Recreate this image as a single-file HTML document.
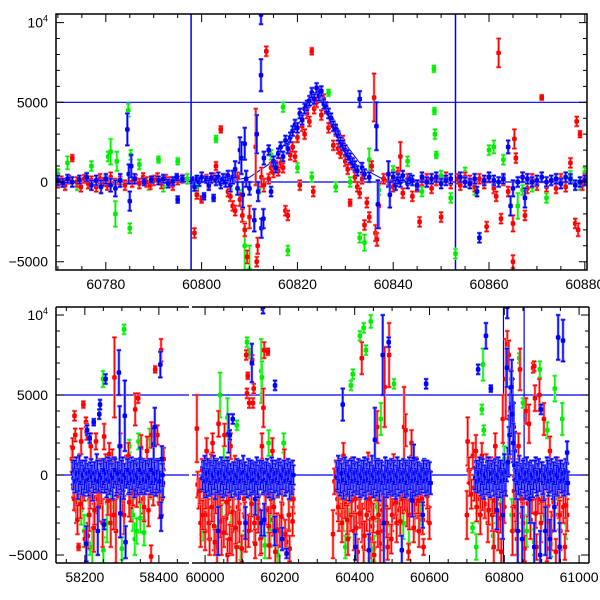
<!DOCTYPE html>
<html><head><meta charset="utf-8"><style>
html,body{margin:0;padding:0;background:#fff;}
svg{display:block;font-family:"Liberation Sans",Arial,sans-serif;}
</style></head><body>
<svg id="chart" width="600" height="600" viewBox="0 0 600 600" xmlns="http://www.w3.org/2000/svg">
<defs>
<clipPath id="clipTop"><rect x="56" y="14" width="531" height="256"/></clipPath>
<clipPath id="clipB1"><rect x="56" y="307" width="133" height="256"/></clipPath>
<clipPath id="clipB2"><rect x="192" y="307" width="397" height="256"/></clipPath>
</defs>
<g id="topPanel"></g>
<g id="botPanel"></g>
</svg>
<script>
// ---------- DATA ----------
const topXTicks=[60780,60800,60820,60840,60860,60880];
const botXTicksLeft=[58200,58400];
const botXTicksRight=[60000,60200,60400,60600,60800,61000];
const yTicks=[-5000,0,5000,10000];
const refLinesY=[0,5000];
const refLinesX=[60797.8,60853];
const modelCurve=[[60770,0],[60806,60],[60810,300],[60814,1100],[60818,2600],[60822,4500],[60824.5,5300],[60827,4300],[60830,2400],[60834,800],[60838,150],[60845,0],[60880,0]];

const topBlue=[[60770,100,300],[60771,-50,250],[60772,200,250],[60773,0,300],[60774.5,150,250],[60776,300,250],[60777,-200,300],[60778,100,300],[60779,-300,400],[60780,200,300],[60781,-200,400],[60782,-400,500],[60783,100,400],[60784.5,3300,1000],[60784.8,500,600],[60785,-1200,600],[60785.3,1000,700],[60786,200,300],[60788,0,200],[60789.5,150,200],[60791,100,250],[60792,200,250],[60793,-100,250],[60794,50,250],[60794.8,300,200],[60795,-1100,200],[60796,200,200],[60798,100,200],[60798.5,-300,250],[60799,200,200],[60799.5,0,250],[60800,300,300],[60800.5,-900,200],[60801,150,200],[60801.5,-200,300],[60802,250,300],[60802.5,-1000,200],[60803,100,300],[60803.5,300,300],[60804,-100,300],[60804.5,200,300],[60805,0,300],[60805.5,400,300],[60806,-200,400],[60806.5,300,400],[60807,800,500],[60807.5,-400,400],[60808,2000,800],[60808.3,1500,1000],[60808.6,-800,800],[60809,2400,1000],[60809.3,200,500],[60810,-400,400],[60811,-2400,700],[60811.5,3000,1200],[60811.8,-600,600],[60812.4,10500,600],[60812.4,6700,1000],[60812.5,-2900,600],[60812.9,-2300,600],[60813,1500,400],[60814,2000,300],[60814.5,-600,300],[60815,1300,300],[60815.5,900,300],[60816,1800,300],[60816.5,2200,300],[60817,1600,300],[60817.5,2600,300],[60818,2100,300],[60818.5,2800,300],[60819,3200,300],[60819.5,3600,300],[60820,3400,300],[60820.5,4300,300],[60821,3900,300],[60821.5,4600,300],[60822,4800,300],[60822.5,5100,300],[60823,5600,300],[60823.5,5200,300],[60824,5900,300],[60824.5,5400,300],[60825,5700,300],[60825.5,4900,300],[60826,4700,300],[60826.5,4300,300],[60827,4000,300],[60827.5,3500,300],[60828,3300,300],[60828.5,2900,300],[60829,2500,300],[60829.5,2300,300],[60830,2000,300],[60830.5,1700,300],[60831,1500,300],[60831.5,1200,300],[60832,1000,300],[60832.5,700,300],[60833,5200,500],[60833.5,900,300],[60834,500,300],[60835,300,300],[60836.5,3500,1500],[60836.8,-1400,1500],[60839,500,800],[60839.3,-800,800],[60840,300,300],[60840.5,-200,300],[60841,200,300],[60841.5,0,300],[60842,400,300],[60843,-100,300],[60843.5,200,300],[60844,100,300],[60845,-200,300],[60846,300,300],[60847,0,300],[60848,200,300],[60849,300,300],[60850,-100,300],[60851,100,300],[60852,200,300],[60854,300,300],[60855,0,300],[60856,-100,300],[60857,200,300],[60857.5,-600,300],[60858,-3500,300],[60859,100,300],[60860,300,300],[60861,100,300],[60862,0,300],[60863,200,300],[60864,2200,400],[60864.5,-1500,600],[60865,-400,500],[60866,0,300],[60867,300,300],[60867.5,-1000,600],[60868,200,300],[60869,0,300],[60870,100,300],[60871,300,300],[60872,0,300],[60873,100,300],[60874,200,300],[60875,-100,300],[60876,300,300],[60877,200,300],[60878,-200,300],[60879,0,300],[60880,100,300]];

const topRed=[[60770,-100,250],[60770.7,100,250],[60771.5,-200,300],[60772.3,150,250],[60773,1500,200],[60774,0,300],[60774.8,-300,300],[60775.5,200,250],[60776.3,-100,300],[60777,100,250],[60778,-300,300],[60778.8,200,300],[60779.5,0,250],[60780.3,-200,300],[60781,300,300],[60782,-100,300],[60783,100,250],[60784,-200,300],[60785.5,0,300],[60786.2,200,250],[60787,-100,300],[60787.8,300,250],[60788.5,0,300],[60789.3,-200,250],[60790,100,300],[60790.8,300,250],[60791.6,-100,300],[60792.5,200,250],[60793.3,0,300],[60794,-200,300],[60795,100,250],[60796,200,250],[60798.5,-3200,300],[60799,-800,250],[60800,-1100,200],[60801,200,250],[60801.5,-100,300],[60802.5,300,250],[60803,1000,250],[60804,3300,200],[60805,200,300],[60805.5,-600,300],[60806,-900,300],[60806.5,-1500,300],[60807,-1800,300],[60807.5,300,300],[60808,-1100,400],[60808.5,-2100,400],[60809,-3000,400],[60809.5,-4700,400],[60810,-2200,700],[60811.5,-5000,300],[60811.7,-4000,500],[60811.3,2200,2400],[60812.5,300,600],[60813,-200,400],[60813.5,8200,300],[60814,200,300],[60814.5,900,300],[60815,600,300],[60815.5,1000,300],[60816,700,300],[60816.5,1200,300],[60817,900,300],[60817.5,-1800,300],[60818,-2100,300],[60818.5,1700,300],[60819,2200,300],[60819.5,1600,300],[60820,2800,300],[60820.5,-200,300],[60821,3500,300],[60821.5,3000,300],[60822,4300,300],[60822.5,3800,300],[60823,8200,200],[60823.3,-600,300],[60823.5,4600,300],[60824,5000,300],[60824.5,5600,300],[60825,4200,300],[60825.5,5200,300],[60826,4600,300],[60826.5,3400,300],[60827,3800,300],[60827.5,2300,300],[60828,3200,300],[60828.5,2100,300],[60829,1800,300],[60829.5,2600,300],[60830,1300,300],[60830.5,800,300],[60831,-1300,200],[60831.5,1100,300],[60832,300,300],[60832.5,-300,300],[60833,-700,300],[60833.5,200,300],[60834,-2700,300],[60834.5,-1300,300],[60835,-2200,300],[60835.5,1000,300],[60836,5300,1500],[60836.3,-3200,500],[60836.6,-3600,400],[60837,-1500,1400],[60838,200,300],[60839,100,300],[60840,-300,300],[60841,600,300],[60841.5,1600,900],[60842,-700,300],[60843,200,300],[60844,-900,300],[60845,-300,300],[60845.5,-2500,300],[60846,100,300],[60847,200,300],[60848,-400,300],[60849,100,300],[60850,-2200,300],[60851,300,300],[60852,-100,300],[60853.5,200,300],[60854,-200,300],[60855,300,300],[60856,100,300],[60857,-300,300],[60858,200,300],[60859,-100,300],[60859.5,-2800,300],[60860,300,300],[60861,-400,300],[60861.5,-900,300],[60862,8100,900],[60862.5,-2300,300],[60863,100,300],[60864,-600,300],[60865,-5000,400],[60865,-2600,500],[60865.3,2700,600],[60865.6,1500,300],[60866,0,300],[60867,300,300],[60867.5,-2100,300],[60868,-400,300],[60869,200,300],[60870,-200,300],[60871,5300,150],[60872,-300,300],[60873,100,300],[60874,-400,300],[60875,200,300],[60876,-300,300],[60877,1200,300],[60878,-2600,300],[60878.3,3800,300],[60878.6,-3000,400],[60879,3000,200],[60879.5,-200,300],[60880,200,300]];

const topGreen=[[60770,500,300],[60772,1200,400],[60774,-200,300],[60776,300,300],[60777,1000,300],[60778,-300,300],[60780,100,300],[60780.5,1600,300],[60781,1900,800],[60782,-2000,800],[60782.3,1300,600],[60783,200,300],[60784.7,4500,400],[60785,-2900,300],[60785.2,1700,300],[60787,1100,300],[60789,-200,300],[60791,1400,200],[60792,-300,300],[60795,1300,200],[60797,200,300],[60799,-400,300],[60803,2700,200],[60806,-500,300],[60808,-800,300],[60809,-4000,1500],[60810,-5500,1500],[60812,-400,300],[60814.5,1700,300],[60817,4700,300],[60818,-4300,300],[60820,900,300],[60823,300,300],[60826.5,5600,200],[60828,-300,300],[60831,0,300],[60833,-3500,300],[60834,-3800,500],[60835,1400,700],[60837,-500,300],[60840,700,300],[60843,1300,300],[60846,-600,300],[60848.5,7100,200],[60848.6,4450,200],[60848.7,3000,300],[60849,1700,200],[60850,400,300],[60852,-1000,300],[60853,-4500,300],[60855,600,300],[60857,-500,300],[60860,2000,300],[60861,2200,400],[60863,1400,300],[60866,-1500,800],[60867,-500,300],[60869,-300,300],[60872,-1000,300],[60875,200,300],[60877,400,300],[60879,-200,300],[60880,600,300]];

const botBlue=[[58168,100,700],[58173,-300,800],[58177,200,900],[58181,-500,1000],[58185,300,900],[58189,-200,800],[58193,0,900],[58197,-400,900],[58204,-4300,1100],[58203,200,900],[58206,2800,300],[58210,-300,1000],[58213,2300,300],[58217,100,900],[58221,-600,1000],[58224,3300,200],[58228,-200,900],[58232,300,1000],[58235,-3500,1500],[58239,3800,300],[58241,4400,300],[58245,-100,1000],[58249,0,900],[58252,-3100,300],[58256,6000,300],[58259,-400,1000],[58263,200,900],[58267,-200,1000],[58271,100,900],[58275,-500,1000],[58280,200,900],[58284,-300,1000],[58292,6400,1400],[58294,1800,2500],[58296,-2400,1500],[58298,-300,900],[58302,200,900],[58305,-500,1000],[58308,3700,2200],[58310,-4200,1000],[58314,100,900],[58318,-200,1000],[58322,-300,900],[58326,200,900],[58330,0,900],[58334,-400,1000],[58338,100,900],[58342,-200,1000],[58346,0,800],[58350,1000,700],[58354,-300,900],[58358,100,900],[58362,-200,1000],[58366,0,900],[58370,-100,900],[58374,200,800],[58378,-300,900],[58382,100,900],[58386,1900,1000],[58389,3000,1200],[58392,-400,900],[58396,100,900],[58400,-200,900],[58404,6900,800],[58406,-2600,900],[58408,1000,800],[58411,-500,900],
[59995,-100,900],[59999,200,1000],[60003,-400,1000],[60007,100,900],[60011,-300,1000],[60015,0,900],[60019,-200,1000],[60023,300,900],[60027,-500,1000],[60031,100,900],[60035,-3500,1500],[60039,-200,1000],[60043,200,900],[60047,-400,1000],[60051,0,900],[60055,-300,1000],[60059,200,900],[60063,2600,1200],[60066,2500,300],[60070,-400,1000],[60074,3500,300],[60078,-100,900],[60082,-300,1000],[60086,100,900],[60090,-500,1000],[60094,0,900],[60098,-200,1000],[60102,300,900],[60125,7000,1200],[60108,-3000,1000],[60112,-400,1000],[60116,100,900],[60120,-300,1000],[60124,0,900],[60128,-200,1000],[60155,10500,400],[60134,-1500,1000],[60138,200,900],[60142,-400,1000],[60146,0,900],[60150,-3000,800],[60154,-200,1000],[60158,-2800,1000],[60187,5600,300],[60166,100,900],[60170,-400,1000],[60174,-200,900],[60178,200,900],[60182,-500,1000],[60186,-3500,900],[60190,0,900],[60194,-300,1000],[60198,100,900],[60202,-200,1000],[60206,-4000,700],[60210,0,900],[60214,-300,1000],[60218,-4900,300],[60222,100,900],[60226,-500,1000],[60230,-200,900],[60234,0,900],
[60352,-100,900],[60356,200,1000],[60360,-300,1000],[60363,100,900],[60368,4400,1000],[60370,-500,1000],[60374,200,900],[60378,-300,1000],[60382,0,900],[60386,-600,1000],[60390,100,900],[60394,-300,1000],[60398,200,900],[60402,-4500,800],[60406,-200,1000],[60410,100,900],[60414,-400,1000],[60418,0,900],[60422,-300,1000],[60426,200,900],[60430,-500,1000],[60434,100,900],[60438,-4700,1000],[60442,-200,1000],[60446,300,900],[60450,-400,1000],[60454,2200,2000],[60458,-300,1000],[60462,100,900],[60466,-600,1000],[60470,0,900],[60475,7500,2500],[60478,-3000,2500],[60482,200,900],[60486,-400,1000],[60491,8300,300],[60494,-200,1000],[60498,100,900],[60502,-300,1000],[60506,0,900],[60510,-500,1000],[60514,200,900],[60518,-300,1000],[60522,-200,900],[60526,-4700,900],[60530,100,900],[60534,-400,1000],[60538,0,900],[60542,-300,1000],[60546,200,900],[60550,-500,1000],[60554,-1600,1000],[60558,1000,900],[60562,-300,1000],[60566,100,900],[60570,-200,1000],[60591,5700,300],[60578,-200,900],[60582,-2500,800],[60586,100,900],[60590,-300,1000],[60594,0,900],[60598,-200,900],
[60725,-100,900],[60730,6600,300],[60734,200,900],[60738,-300,1000],[60742,100,900],[60746,-500,1000],[60751,8700,800],[60754,-200,1000],[60758,200,900],[60762,-400,1000],[60764,5400,200],[60768,0,900],[60772,-300,1000],[60776,100,900],[60780,-2200,1200],[60784,200,900],[60788,-400,1000],[60792,0,900],[60796,-2500,1500],[60800,300,1000],[60804,-300,1000],[60807,6700,1200],[60808,10500,700],[60812,1500,1500],[60815,3500,1500],[60818,5000,1500],[60820,6000,1200],[60822,4500,1500],[60825,3000,1500],[60828,1500,1200],[60832,-500,1000],[60836,-3500,2000],[60840,200,1000],[60844,-300,1000],[60848,-4000,2000],[60852,100,900],[60856,-500,1000],[60860,200,900],[60864,-300,1000],[60868,-1500,1500],[60872,0,900],[60876,-400,1000],[60880,-4500,1500],[60884,200,900],[60888,-300,1000],[60892,100,900],[60896,-5000,1500],[60898,4100,300],[60902,-200,1000],[60906,-600,1000],[60910,-3500,1500],[60914,200,900],[60918,-300,1000],[60922,-4000,1200],[60926,100,900],[60930,-500,1000],[60934,-2000,1500],[60938,200,900],[60942,-300,1000],[60944,8600,1400],[60948,-4500,1500],[60952,0,900],[60957,8400,1300],[60960,-300,1000],[60964,100,900],[60968,1400,700]];

const botBlueCore=[[58170,-200,700],[58172,300,600],[58175,-400,700],[58179,100,600],[58183,-300,700],[58187,200,600],[58191,-500,700],[58195,0,600],[58199,-200,700],[58201,300,600],[58205,-400,700],[58208,100,600],[58211,-300,700],[58215,200,600],[58219,-100,700],[58223,-500,600],[58226,100,700],[58230,-300,600],[58234,200,700],[58237,-400,600],[58243,0,700],[58247,-200,600],[58251,300,700],[58254,-500,600],[58258,100,700],[58261,-300,600],[58265,200,700],[58269,-400,600],[58273,0,700],[58277,-200,600],[58282,300,700],[58286,-500,600],[58289,100,700],[58297,-300,600],[58300,200,700],[58304,-400,600],[58307,0,700],[58312,-200,600],[58316,300,700],[58320,-500,600],[58324,100,700],[58328,-300,600],[58332,200,700],[58336,-400,600],[58340,0,700],[58344,-200,600],[58348,300,700],[58352,-500,600],[58356,100,700],[58360,-300,600],[58364,200,700],[58368,-400,600],[58372,0,700],[58376,-200,600],[58380,300,700],[58384,-500,600],[58388,100,700],[58394,-300,600],[58398,200,700],[58402,-400,600],[58410,0,700],
[59993,-200,700],[59997,300,600],[60001,-400,700],[60005,100,600],[60009,-300,700],[60013,200,600],[60017,-500,700],[60021,0,600],[60025,-200,700],[60029,300,600],[60033,-400,700],[60037,100,600],[60041,-300,700],[60045,200,600],[60049,-500,700],[60053,0,600],[60057,-200,700],[60061,300,600],[60065,-400,700],[60068,100,600],[60072,-300,700],[60076,200,600],[60080,-500,700],[60084,0,600],[60088,-200,700],[60092,300,600],[60096,-400,700],[60100,100,600],[60104,-300,700],[60106,200,600],[60110,-500,700],[60114,0,600],[60118,-200,700],[60122,300,600],[60126,-400,700],[60130,100,600],[60132,-300,700],[60136,200,600],[60140,-500,700],[60144,0,600],[60148,-200,700],[60152,300,600],[60156,-400,700],[60160,100,600],[60162,-300,700],[60164,200,600],[60168,-500,700],[60172,0,600],[60176,-200,700],[60180,300,600],[60184,-400,700],[60188,100,600],[60192,-300,700],[60196,200,600],[60200,-500,700],[60204,0,600],[60208,-200,700],[60212,300,600],[60216,-400,700],[60220,100,600],[60224,-300,700],[60228,200,600],[60232,-500,700],[60236,0,600],
[60354,-200,700],[60358,300,600],[60362,-400,700],[60365,100,600],[60372,-300,700],[60376,200,600],[60380,-500,700],[60384,0,600],[60388,-200,700],[60392,300,600],[60396,-400,700],[60400,100,600],[60404,-300,700],[60408,200,600],[60412,-500,700],[60416,0,600],[60420,-200,700],[60424,300,600],[60428,-400,700],[60432,100,600],[60436,-300,700],[60440,200,600],[60444,-500,700],[60448,0,600],[60452,-200,700],[60456,300,600],[60460,-400,700],[60464,100,600],[60468,-300,700],[60472,200,600],[60476,-500,700],[60480,0,600],[60484,-200,700],[60488,300,600],[60492,-400,700],[60496,100,600],[60500,-300,700],[60504,200,600],[60508,-500,700],[60512,0,600],[60516,-200,700],[60520,300,600],[60524,-400,700],[60528,100,600],[60532,-300,700],[60536,200,600],[60540,-500,700],[60544,0,600],[60548,-200,700],[60552,300,600],[60556,-400,700],[60560,100,600],[60564,-300,700],[60568,200,600],[60572,-500,700],[60576,0,600],[60580,-200,700],[60584,300,600],[60588,-400,700],[60592,100,600],[60596,-300,700],[60600,200,600],[60603,-500,700],
[60722,-200,700],[60726,300,600],[60728,-400,700],[60732,100,600],[60736,-300,700],[60740,200,600],[60744,-500,700],[60748,0,600],[60752,-200,700],[60756,300,600],[60760,-400,700],[60766,100,600],[60770,-300,700],[60774,200,600],[60778,-500,700],[60782,0,600],[60786,-200,700],[60790,300,600],[60794,-400,700],[60798,100,600],[60802,-300,700],[60806,200,600],[60810,800,900],[60814,2500,1200],[60817,4200,1200],[60819,5500,1000],[60821,3800,1200],[60824,2000,1200],[60827,600,900],[60830,-300,700],[60834,200,600],[60838,-500,700],[60842,0,600],[60846,-200,700],[60850,300,600],[60854,-400,700],[60858,100,600],[60862,-300,700],[60866,200,600],[60870,-500,700],[60874,0,600],[60878,-200,700],[60882,300,600],[60886,-400,700],[60890,100,600],[60894,-300,700],[60900,200,600],[60904,-500,700],[60908,0,600],[60912,-200,700],[60916,300,600],[60920,-400,700],[60924,100,600],[60928,-300,700],[60932,200,600],[60936,-500,700],[60940,0,600],[60946,-200,700],[60950,300,600],[60954,-400,700],[60958,100,600],[60962,-300,700],[60966,200,600],[60970,-500,700]];

const botRed=[[58165,1000,800],[58167,1700,600],[58169,-800,600],[58172,3700,300],[58174,2500,400],[58177,-2200,800],[58180,-2800,900],[58183,-4500,200],[58186,500,800],[58190,2100,800],[58193,-1200,900],[58196,4400,200],[58200,-4000,500],[58203,3300,300],[58205,2700,500],[58208,-3800,800],[58212,-2500,1000],[58216,1800,800],[58220,-600,1000],[58224,-3300,1500],[58230,2100,500],[58234,-1500,900],[58238,-2000,900],[58242,200,800],[58248,-3000,1500],[58252,2400,800],[58256,600,700],[58260,-800,900],[58266,1300,700],[58270,-3000,1500],[58274,700,900],[58280,6100,2500],[58284,-3500,2000],[58290,-500,900],[58296,1800,800],[58302,-1500,1000],[58306,-2500,1200],[58312,500,700],[58318,1200,800],[58324,-2000,900],[58330,-1000,900],[58336,4100,1000],[58379,-5100,700],[58344,4800,300],[58348,-800,900],[58352,1700,800],[58358,-1500,900],[58390,6600,200],[58368,1500,900],[58372,-2200,1000],[58376,-600,800],[58380,2500,800],[58406,7800,700],[58392,-300,900],[58396,2500,600],[58400,-800,900],[58408,-1500,1000],[58413,1000,700],
[59978,2900,2100],[59980,-600,800],[59983,-1200,900],[59988,-3000,1500],[59992,300,700],[59996,-1800,900],[60000,-3500,1200],[60004,1500,800],[60008,-2500,1000],[60012,-4000,1000],[60016,500,800],[60020,2000,600],[60024,-3200,1500],[60028,-1500,900],[60032,-4500,1000],[60036,3200,800],[60040,-2200,900],[60044,-3800,1200],[60048,-800,800],[60052,2500,700],[60056,-2700,1000],[60060,-5000,1000],[60064,-1500,900],[60068,1800,800],[60072,-3500,1500],[60076,-2500,1000],[60080,400,800],[60084,-4500,1000],[60088,-2000,900],[60092,-3000,1200],[60110,7500,300],[60114,6200,200],[60112,5100,300],[60118,4500,300],[60104,-1500,900],[60108,-3800,1000],[60126,7200,300],[60130,5400,300],[60128,4500,300],[60122,-2500,1000],[60158,7800,500],[60156,4200,1200],[60132,-3000,1200],[60136,-800,800],[60168,7700,200],[60144,-2200,900],[60148,-4000,1000],[60152,1800,800],[60160,-2000,1000],[60164,-500,800],[60170,-3200,1200],[60176,-1500,900],[60180,1500,800],[60182,-2800,1000],[60188,-4800,800],[60194,-600,800],[60200,-3500,1000],[60206,-1800,900],[60212,800,800],[60218,-4200,800],[60224,-2500,1000],[60230,-800,800],[60236,-1500,900],
[60342,-3700,1500],[60346,-400,800],[60350,200,700],[60354,-1500,900],[60358,-2500,1000],[60362,-500,800],[60366,-3000,1200],[60370,1200,800],[60374,-1800,900],[60378,-800,800],[60382,-4000,1000],[60386,-1000,800],[60390,-2500,1000],[60394,400,700],[60398,-3500,1200],[60402,-1500,900],[60419,7300,1000],[60408,-4800,800],[60412,-2000,1000],[60416,-600,800],[60420,-3000,1200],[60424,-4500,1000],[60428,-1200,900],[60432,-2500,1000],[60436,600,800],[60440,-4000,1200],[60444,-1800,900],[60448,-3200,1000],[60452,-5000,800],[60456,-800,800],[60460,3000,1000],[60464,-2500,1000],[60468,-4300,1500],[60472,-1000,900],[60476,-3500,1200],[60480,5500,2500],[60484,-2000,1000],[60488,-4500,800],[60492,7500,2000],[60496,-1200,900],[60500,-2500,1000],[60504,500,800],[60508,-1800,900],[60512,-3000,1200],[60516,-500,800],[60520,-2200,900],[60524,-800,800],[60528,-1500,900],[60532,3000,2500],[60536,2800,1000],[60540,-2200,1000],[60544,-4800,500],[60548,-500,800],[60552,2000,800],[60556,-1500,900],[60560,-2500,1000],[60564,300,800],[60568,-1800,900],[60572,-3500,1000],[60576,-800,800],[60580,-1500,900],[60584,-4500,500],[60590,-500,800],[60596,-2000,900],[60600,-3000,1000],
[60700,-2500,1500],[60702,2100,1500],[60705,300,800],[60708,-500,800],[60712,-1200,900],[60716,1200,800],[60720,-800,800],[60724,1500,1000],[60728,-1500,900],[60732,-300,800],[60736,-2500,1200],[60740,1200,800],[60744,-800,800],[60748,-1800,900],[60752,500,800],[60756,-3000,1200],[60760,-1200,900],[60764,300,800],[60768,-2500,1000],[60772,-4500,1000],[60776,1800,800],[60780,-1500,900],[60784,-3500,1200],[60788,-500,800],[60792,-4800,800],[60796,3500,1500],[60800,-2000,1000],[60804,6000,2500],[60808,8200,800],[60812,7500,900],[60815,2500,1500],[60818,5000,1500],[60822,-3500,1500],[60826,-1000,900],[60830,-2500,1000],[60834,-4000,1000],[60838,1800,800],[60842,6600,1300],[60846,-1500,900],[60850,-3000,1200],[60854,-4600,800],[60858,4000,800],[60862,-800,900],[60866,3200,1200],[60870,-2800,1200],[60874,-1500,900],[60877,6700,300],[60880,6800,300],[60882,4800,800],[60886,-4500,800],[60890,-1500,900],[60894,5000,1000],[60898,-3000,1200],[60902,-800,900],[60906,3500,1000],[60910,-2500,1000],[60914,-4600,800],[60918,-1000,900],[60922,1500,900],[60926,-3500,1200],[60930,-500,800],[60934,-2500,1000],[60938,-4800,800],[60942,300,800],[60946,-1800,900],[60950,-3500,1200],[60954,-600,800],[60958,-2000,1000],[60962,-4500,800],[60966,-1000,900],[60968,-2500,1000]];

const botRedExtra=[[58171,-1500,700],[58178,-700,800],[58188,-1800,900],[58198,-900,700],[58214,-1300,800],[58226,-2200,900],[58244,-1000,800],[58262,-1600,900],[58278,-2500,900],[58300,-900,800],[58320,-1700,900],[58340,-1200,800],[58360,-2000,900],[58385,-1100,800],[58402,-1800,900],
[59986,-1000,800],[59994,-2500,900],[60002,-1300,800],[60010,-3000,1000],[60018,-2000,900],[60026,-4200,800],[60034,-1200,800],[60042,-2900,1000],[60050,-3600,900],[60058,-1700,800],[60066,-4000,900],[60074,-2300,900],[60082,-3300,1000],[60090,-1400,800],[60098,-4600,800],[60106,-2600,900],[60116,-3500,1000],[60124,-1800,800],[60134,-4300,900],[60142,-2700,900],[60150,-3900,1000],[60162,-2200,900],[60172,-4400,800],[60184,-2000,900],[60192,-3400,1000],[60204,-2600,900],[60214,-3700,900],[60226,-4600,800],[60234,-2900,900],
[60356,-2000,900],[60368,-1300,800],[60380,-2800,900],[60392,-1600,800],[60404,-3300,900],[60414,-2400,900],[60426,-3800,900],[60438,-1500,800],[60450,-2700,900],[60462,-3600,900],[60474,-2200,900],[60486,-3000,900],[60498,-4000,900],[60510,-1700,800],[60522,-2900,900],[60534,-1400,800],[60546,-2500,900],[60558,-3300,900],[60570,-1600,800],[60582,-2800,900],[60594,-1300,800],
[60726,-2000,900],[60742,-1400,800],[60758,-2200,900],[60774,-1600,800],[60790,-2700,900],[60832,-2000,900],[60848,-2600,900],[60864,-1800,800],[60884,-2400,900],[60900,-1600,800],[60916,-2900,900],[60932,-1700,800],[60948,-2500,900],[60964,-1900,800]];

const botGreen=[[58170,-800,600],[58180,-1500,800],[58190,-2200,900],[58198,-3500,1000],[58205,-4000,400],[58210,-2500,900],[58214,-4600,400],[58220,-4500,1200],[58249,6000,500],[58250,-4700,800],[58260,-3000,1200],[58270,-2000,1000],[58306,9100,300],[58300,-4600,700],[58320,1800,400],[58330,-2500,1000],[58335,-4000,1000],[58340,-3500,800],[58345,2100,500],[58350,-2700,900],[58360,-3600,800],[58375,2300,600],[58380,-800,700],[58400,-600,800],
[59990,-3700,300],[59995,-3500,600],[60000,-2500,1000],[60040,5000,1400],[60020,-1500,900],[60030,-4000,800],[60045,-2800,1000],[60050,1000,800],[60060,3600,1200],[60070,-3000,1000],[60085,3100,300],[60095,-4500,800],[60112,8300,300],[60118,7600,300],[60150,6500,2000],[60152,6100,1000],[60140,-2000,1000],[60160,-4400,800],[60170,2000,800],[60175,-3500,1000],[60180,-1500,900],[60195,-5000,500],[60210,2000,600],[60225,-2500,900],
[60360,-1500,900],[60370,-2500,1000],[60375,-4500,700],[60385,-3000,900],[60390,5600,300],[60395,6300,300],[60443,9600,400],[60414,8700,300],[60424,9200,300],[60430,7800,300],[60440,-800,800],[60445,-4800,800],[60452,-4600,800],[60460,-2000,900],[60470,3500,1000],[60480,-2500,1000],[60495,-4000,800],[60505,5700,300],[60520,-1800,900],[60530,-3000,1000],[60545,-4300,1000],[60560,-1500,900],[60575,-2200,900],
[60715,-3300,300],[60725,-4500,800],[60735,-2000,1000],[60740,4100,300],[60745,2800,300],[60743,6900,1000],[60760,-1500,900],[60770,-3800,800],[60780,-2500,1000],[60790,-1800,900],[60800,1000,800],[60820,-2500,1000],[60840,7300,300],[60850,4500,300],[60860,-3500,1000],[60870,-1000,900],[60880,-4200,800],[60895,6600,500],[60905,-2000,900],[60915,2800,500],[60925,-4300,800],[60935,5400,800],[60945,-1500,900],[60955,3500,1000],[60965,-3000,1000]];

// ---------- SCALES ----------
const NS="http://www.w3.org/2000/svg";
function xTop(m){return 56+(m-60769.6)*4.79;}
function yTop(f){return 182-f*0.01594;}
function xBot(m){return m<59500?56+(m-58122)*0.37:192+(m-59965)*0.374;}
function yBot(f){return 475-f*0.016;}

function mk(parent,tag,attrs){const e=document.createElementNS(NS,tag);for(const k in attrs)e.setAttribute(k,attrs[k]);parent.appendChild(e);return e;}

function drawSeries(g,data,color,halo,xs,ys,name){
  const sg=mk(g,'g',{});
  
  
  data.forEach(function(p){
    const x=xs(p[0]),y=ys(p[1]),y1=ys(p[1]+p[2]),y2=ys(p[1]-p[2]);
    const d='M'+x+' '+y1+'V'+y2+'M'+(x-2.2)+' '+y1+'H'+(x+2.2)+'M'+(x-2.2)+' '+y2+'H'+(x+2.2);
    const h=mk(sg,'path',{d:d,stroke:halo,'stroke-width':2.6,fill:'none'});
    
    
    const eb=mk(sg,'path',{d:d,stroke:color,'stroke-width':1.2,fill:'none'});
    
    
    const c=mk(sg,'rect',{x:x-2.3,y:y-2.3,width:4.6,height:4.6,rx:1.5,fill:color});
    
    
  });
}
const RED='#ff0000',REDH='#ff8080',GRN='#00ee00',GRNH='#80ff80',BLU='#0000ff',BLUH='#7070ff';

// ---------- TOP PANEL ----------
const tp=document.getElementById('topPanel');
const tClip=mk(tp,'g',{'clip-path':'url(#clipTop)'});
refLinesY.forEach(function(v){const l=mk(tClip,'line',{x1:56,x2:587,y1:yTop(v),y2:yTop(v),stroke:'#0000ee','stroke-width':1.2});});
refLinesX.forEach(function(v){const l=mk(tClip,'line',{x1:xTop(v),x2:xTop(v),y1:14,y2:270,stroke:'#0000ee','stroke-width':1.5});});
const mc=mk(tClip,'polyline',{points:modelCurve.map(function(p){return xTop(p[0])+','+yTop(p[1]);}).join(' '),fill:'none',stroke:'#0000ee','stroke-width':1});

drawSeries(tClip,topGreen,GRN,GRNH,xTop,yTop,'series-green-top');
drawSeries(tClip,topRed,RED,REDH,xTop,yTop,'series-red-top');
drawSeries(tClip,topBlue,BLU,BLUH,xTop,yTop,'series-blue-top');
const tf=mk(tp,'rect',{x:56,y:14,width:531,height:256,fill:'none',stroke:'#000','stroke-width':1.5});

for(let m=60770;m<=60880;m+=5){const x=xTop(m),L=(m%20===0)?8:4;mk(tp,'path',{d:'M'+x+' 270v-'+L+'M'+x+' 14v'+L,stroke:'#000','stroke-width':1});}
topXTicks.forEach(function(m){const t=mk(tp,'text',{x:xTop(m),y:289,'text-anchor':'middle','font-size':14});t.textContent=m;});
for(let f=-5000;f<=10000;f+=1000){const y=yTop(f),L=(f%5000===0)?8:4;mk(tp,'path',{d:'M56 '+y+'h'+L+'M587 '+y+'h-'+L,stroke:'#000','stroke-width':1});}

// ---------- BOTTOM PANEL ----------
const bp=document.getElementById('botPanel');
[['url(#clipB1)',56,189],['url(#clipB2)',192,589]].forEach(function(seg,i){
  const g=mk(bp,'g',{'clip-path':seg[0]});
  refLinesY.forEach(function(v){const l=mk(g,'line',{x1:seg[1],x2:seg[2],y1:yBot(v),y2:yBot(v),stroke:'#0000ee','stroke-width':1.2});});
  if(i===1){refLinesX.forEach(function(v){const l=mk(g,'line',{x1:xBot(v),x2:xBot(v),y1:307,y2:563,stroke:'#0000ee','stroke-width':1.2});});}
  drawSeries(g,botGreen,GRN,GRNH,xBot,yBot,'series-green-bottom');
  drawSeries(g,botRed,RED,REDH,xBot,yBot,'series-red-bottom');
  drawSeries(g,botRedExtra,RED,REDH,xBot,yBot,'series-red-bottom-extra');
  drawSeries(g,botBlue,BLU,BLUH,xBot,yBot,'series-blue-bottom');
  drawSeries(g,botBlueCore,BLU,BLUH,xBot,yBot,'series-blue-bottom-core');
  let d='M'+seg[1]+' 307H'+seg[2]+'M'+seg[1]+' 563H'+seg[2];
  if(i===0)d+='M56 307V563';
  if(i===1)d+='M589 307V563';
  const fr=mk(bp,'path',{d:d,fill:'none',stroke:'#000','stroke-width':1.5});
  
});
for(let m=58150;m<=58450;m+=50){const x=xBot(m),L=(m%200===0)?8:4;mk(bp,'path',{d:'M'+x+' 563v-'+L+'M'+x+' 307v'+L,stroke:'#000','stroke-width':1});}
for(let m=60000;m<=61000;m+=50){const x=xBot(m),L=(m%200===0)?8:4;mk(bp,'path',{d:'M'+x+' 563v-'+L+'M'+x+' 307v'+L,stroke:'#000','stroke-width':1});}
botXTicksLeft.concat(botXTicksRight).forEach(function(m){const t=mk(bp,'text',{x:xBot(m),y:582,'text-anchor':'middle','font-size':14});t.textContent=m;});
for(let f=-5000;f<=10000;f+=1000){const y=yBot(f),L=(f%5000===0)?8:4;mk(bp,'path',{d:'M56 '+y+'h'+L+'M589 '+y+'h-'+L,stroke:'#000','stroke-width':1});}

// ---------- Y LABELS ----------
[[tp,yTop],[bp,yBot]].forEach(function(pr){
  yTicks.forEach(function(v){
    const t=mk(pr[0],'text',{x:48,y:pr[1](v)+5,'text-anchor':'end','font-size':14});
    
    
    if(v===10000){t.textContent='10';const s=mk(t,'tspan',{dy:-6,'font-size':9});s.textContent='4';}
    else t.textContent=(v<0?'\u2212'+(-v):v);
  });
});
</script>
</body></html>
